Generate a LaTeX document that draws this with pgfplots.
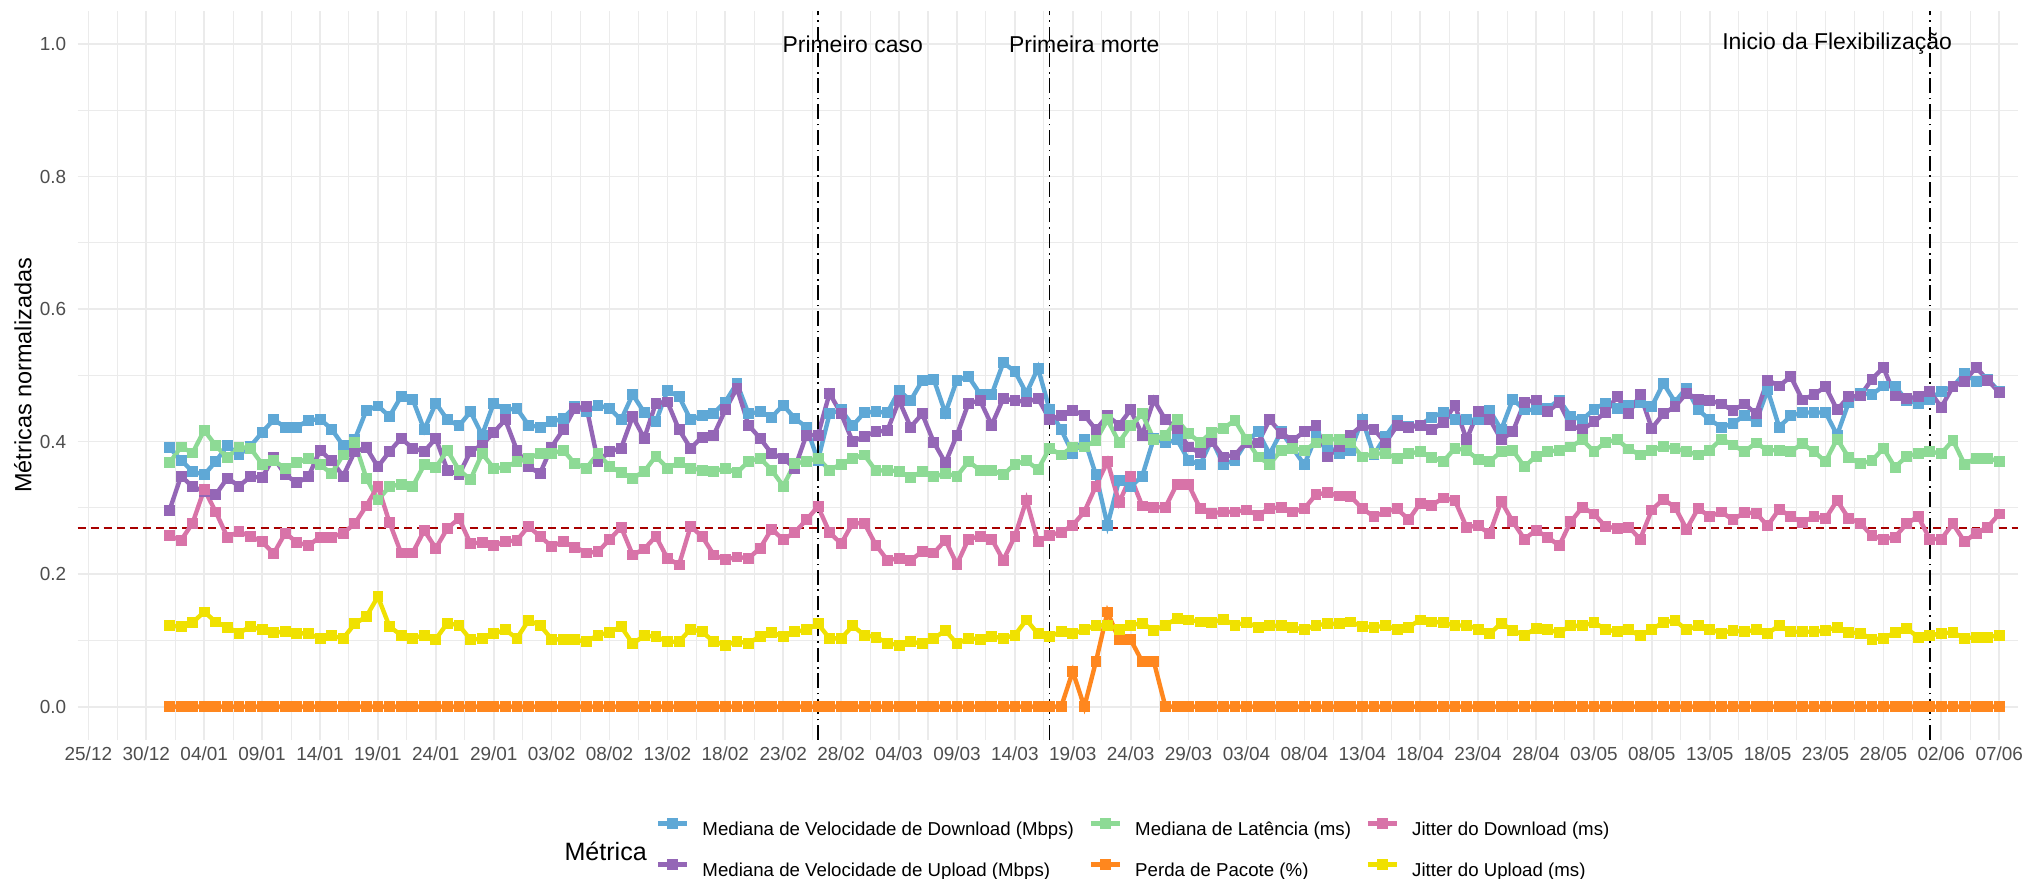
\documentclass[border=0pt]{standalone}
\usepackage{fontspec}
\setmainfont{Liberation Sans}
\usepackage{pgfplots}
\usepackage{pgfplotstable}
\pgfplotsset{compat=1.18}
\definecolor{cDL}{HTML}{5FA8D6}
\definecolor{cUL}{HTML}{9466B6}
\definecolor{cLAT}{HTML}{8DDA95}
\definecolor{cLOSS}{HTML}{FF871E}
\definecolor{cJD}{HTML}{D873A8}
\definecolor{cJU}{HTML}{F0E100}
\definecolor{gridc}{HTML}{EBEBEB}
\definecolor{tickc}{HTML}{4D4D4D}
\definecolor{hline}{HTML}{A80000}

\pgfplotstableread{
d dl ul lat loss jd ju
7 0.391 0.296 0.368 0 0.258 0.122
8 0.372 0.348 0.392 0 0.251 0.121
9 0.355 0.332 0.383 0 0.277 0.127
10 0.350 0.325 0.417 0 0.328 0.143
11 0.370 0.320 0.394 0 0.294 0.128
12 0.394 0.345 0.376 0 0.256 0.120
13 0.380 0.333 0.392 0 0.264 0.111
14 0.393 0.347 0.390 0 0.257 0.121
15 0.414 0.346 0.366 0 0.249 0.116
16 0.433 0.376 0.371 0 0.231 0.112
17 0.422 0.350 0.360 0 0.262 0.113
18 0.422 0.338 0.368 0 0.248 0.111
19 0.432 0.347 0.375 0 0.243 0.110
20 0.434 0.387 0.365 0 0.256 0.103
21 0.419 0.371 0.352 0 0.256 0.107
22 0.394 0.348 0.380 0 0.262 0.103
23 0.403 0.385 0.399 0 0.276 0.125
24 0.447 0.391 0.345 0 0.303 0.136
25 0.454 0.362 0.312 0 0.333 0.166
26 0.438 0.385 0.332 0 0.278 0.121
27 0.468 0.405 0.336 0 0.232 0.108
28 0.464 0.390 0.332 0 0.232 0.103
29 0.418 0.385 0.365 0 0.266 0.108
30 0.458 0.405 0.361 0 0.239 0.102
31 0.433 0.357 0.387 0 0.269 0.126
32 0.424 0.350 0.357 0 0.284 0.123
33 0.445 0.385 0.343 0 0.246 0.101
34 0.410 0.395 0.382 0 0.248 0.103
35 0.458 0.414 0.360 0 0.243 0.110
36 0.448 0.433 0.361 0 0.249 0.116
37 0.450 0.387 0.370 0 0.251 0.103
38 0.425 0.362 0.375 0 0.272 0.130
39 0.422 0.352 0.382 0 0.257 0.123
40 0.430 0.392 0.382 0 0.242 0.102
41 0.435 0.418 0.387 0 0.249 0.101
42 0.453 0.450 0.367 0 0.241 0.101
43 0.445 0.453 0.360 0 0.232 0.098
44 0.455 0.370 0.382 0 0.234 0.108
45 0.450 0.385 0.363 0 0.252 0.112
46 0.433 0.390 0.353 0 0.271 0.121
47 0.471 0.438 0.345 0 0.229 0.095
48 0.444 0.405 0.355 0 0.238 0.107
49 0.430 0.458 0.378 0 0.257 0.106
50 0.477 0.460 0.360 0 0.224 0.098
51 0.468 0.418 0.368 0 0.214 0.098
52 0.433 0.390 0.360 0 0.272 0.117
53 0.439 0.407 0.357 0 0.257 0.113
54 0.443 0.410 0.355 0 0.229 0.098
55 0.460 0.448 0.360 0 0.222 0.093
56 0.488 0.481 0.353 0 0.226 0.098
57 0.442 0.425 0.370 0 0.224 0.096
58 0.445 0.405 0.375 0 0.239 0.106
59 0.437 0.382 0.357 0 0.268 0.112
60 0.455 0.375 0.333 0 0.252 0.106
61 0.435 0.360 0.367 0 0.263 0.113
62 0.422 0.410 0.370 0 0.282 0.116
63 0.372 0.410 0.375 0 0.302 0.125
64 0.442 0.473 0.357 0 0.263 0.103
65 0.448 0.442 0.366 0 0.246 0.103
66 0.424 0.400 0.375 0 0.277 0.122
67 0.444 0.408 0.380 0 0.277 0.108
68 0.445 0.415 0.356 0 0.244 0.105
69 0.444 0.417 0.357 0 0.221 0.096
70 0.477 0.462 0.355 0 0.224 0.093
71 0.462 0.422 0.346 0 0.221 0.098
72 0.492 0.442 0.355 0 0.234 0.095
73 0.494 0.399 0.347 0 0.232 0.103
74 0.443 0.368 0.352 0 0.251 0.115
75 0.493 0.410 0.348 0 0.215 0.095
76 0.498 0.458 0.370 0 0.253 0.103
77 0.472 0.462 0.357 0 0.257 0.102
78 0.471 0.425 0.357 0 0.253 0.106
79 0.519 0.465 0.350 0 0.221 0.103
80 0.506 0.462 0.366 0 0.257 0.108
81 0.473 0.460 0.371 0 0.312 0.131
82 0.511 0.465 0.358 0 0.249 0.110
83 0.448 0.434 0.390 0 0.259 0.106
84 0.418 0.439 0.380 0 0.263 0.113
85 0.382 0.447 0.392 0.053 0.274 0.110
86 0.404 0.440 0.392 0 0.294 0.116
87 0.350 0.418 0.402 0.068 0.333 0.123
88 0.274 0.439 0.433 0.143 0.370 0.123
89 0.342 0.425 0.399 0.101 0.308 0.117
90 0.332 0.448 0.424 0.101 0.347 0.123
91 0.348 0.410 0.442 0.068 0.303 0.126
92 0.405 0.463 0.403 0.068 0.301 0.115
93 0.398 0.433 0.410 0 0.301 0.123
94 0.403 0.420 0.433 0 0.336 0.133
95 0.372 0.392 0.412 0 0.335 0.131
96 0.365 0.383 0.399 0 0.299 0.128
97 0.403 0.400 0.414 0 0.292 0.127
98 0.366 0.377 0.420 0 0.294 0.132
99 0.372 0.380 0.432 0 0.294 0.123
100 0.400 0.399 0.403 0 0.297 0.127
101 0.415 0.398 0.377 0 0.289 0.120
102 0.381 0.433 0.366 0 0.299 0.122
103 0.415 0.413 0.387 0 0.301 0.122
104 0.390 0.402 0.390 0 0.294 0.120
105 0.365 0.415 0.387 0 0.299 0.116
106 0.408 0.424 0.398 0 0.320 0.123
107 0.393 0.377 0.404 0 0.323 0.125
108 0.382 0.392 0.403 0 0.318 0.125
109 0.387 0.410 0.398 0 0.317 0.128
110 0.434 0.425 0.377 0 0.299 0.121
111 0.380 0.419 0.382 0 0.287 0.120
112 0.408 0.398 0.382 0 0.294 0.122
113 0.432 0.424 0.375 0 0.299 0.117
114 0.423 0.422 0.382 0 0.282 0.120
115 0.425 0.424 0.385 0 0.307 0.131
116 0.437 0.418 0.376 0 0.304 0.128
117 0.444 0.429 0.370 0 0.315 0.127
118 0.433 0.455 0.390 0 0.311 0.122
119 0.433 0.403 0.387 0 0.271 0.123
120 0.433 0.445 0.373 0 0.273 0.117
121 0.447 0.434 0.370 0 0.261 0.110
122 0.418 0.403 0.385 0 0.310 0.126
123 0.464 0.415 0.387 0 0.279 0.115
124 0.448 0.459 0.362 0 0.253 0.108
125 0.448 0.463 0.378 0 0.266 0.118
126 0.450 0.445 0.385 0 0.256 0.116
127 0.463 0.459 0.387 0 0.243 0.112
128 0.438 0.424 0.392 0 0.279 0.122
129 0.433 0.418 0.403 0 0.301 0.122
130 0.449 0.430 0.385 0 0.291 0.127
131 0.458 0.444 0.399 0 0.272 0.117
132 0.450 0.468 0.403 0 0.269 0.113
133 0.455 0.442 0.389 0 0.271 0.116
134 0.459 0.471 0.380 0 0.253 0.107
135 0.453 0.420 0.387 0 0.297 0.117
136 0.488 0.442 0.393 0 0.313 0.127
137 0.460 0.453 0.390 0 0.301 0.130
138 0.481 0.473 0.385 0 0.268 0.116
139 0.448 0.464 0.380 0 0.299 0.122
140 0.433 0.462 0.387 0 0.287 0.117
141 0.422 0.457 0.404 0 0.294 0.111
142 0.427 0.447 0.395 0 0.282 0.115
143 0.440 0.457 0.385 0 0.293 0.113
144 0.430 0.442 0.398 0 0.292 0.116
145 0.478 0.493 0.387 0 0.273 0.111
146 0.422 0.484 0.387 0 0.298 0.122
147 0.439 0.498 0.385 0 0.287 0.113
148 0.444 0.463 0.397 0 0.278 0.113
149 0.444 0.471 0.385 0 0.287 0.113
150 0.444 0.483 0.370 0 0.284 0.115
151 0.410 0.448 0.404 0 0.311 0.120
152 0.459 0.468 0.376 0 0.284 0.112
153 0.473 0.469 0.367 0 0.277 0.111
154 0.471 0.494 0.371 0 0.258 0.102
155 0.484 0.512 0.390 0 0.253 0.103
156 0.484 0.469 0.361 0 0.256 0.112
157 0.462 0.465 0.378 0 0.276 0.118
158 0.458 0.468 0.382 0 0.287 0.105
159 0.464 0.476 0.385 0 0.253 0.107
160 0.476 0.452 0.382 0 0.253 0.111
161 0.483 0.483 0.402 0 0.276 0.112
162 0.503 0.491 0.366 0 0.249 0.103
163 0.491 0.512 0.375 0 0.262 0.105
164 0.494 0.493 0.375 0 0.271 0.105
165 0.476 0.474 0.370 0 0.291 0.108
}\data

\begin{document}
\begin{tikzpicture}
\begin{axis}[
  scale only axis, width=727.5pt, height=273.3pt,
  at={(0pt,0pt)}, anchor=south west,
  xmin=-0.93, xmax=166.6, ymin=-0.05, ymax=1.05,
  axis line style={draw=none},
  major tick length=0pt, minor tick length=0pt,
  xtick={0,5,...,165},
  xticklabels={25/12,30/12,04/01,09/01,14/01,19/01,24/01,29/01,03/02,08/02,13/02,18/02,23/02,28/02,04/03,09/03,14/03,19/03,24/03,29/03,03/04,08/04,13/04,18/04,23/04,28/04,03/05,08/05,13/05,18/05,23/05,28/05,02/06,07/06},
  minor x tick num=1,
  ytick={0,0.2,0.4,0.6,0.8,1.0},
  yticklabels={0.0,0.2,0.4,0.6,0.8,1.0},
  minor y tick num=1,
  grid=both,
  major grid style={draw=gridc, line width=0.65pt},
  minor grid style={draw=gridc, line width=0.4pt},
  tick label style={font=\fontsize{7.1}{8}\selectfont, text=tickc},
  xticklabel style={anchor=base, inner sep=0pt, yshift=-7.8pt},
  yticklabel style={anchor=east, inner sep=0pt, xshift=-4.1pt},
  ylabel={Métricas normalizadas},
  ylabel style={at={(axis description cs:-0.0282,0.5)}, anchor=center, font=\fontsize{8.8}{10}\selectfont},
  every axis plot/.append style={line width=1.65pt, mark=square*, mark size=1.85pt, mark options={solid, line width=0.3pt}},
  legend image code/.code={\draw[mark repeat=2,mark phase=2,#1] plot coordinates {(0pt,2.5pt) (5.45pt,2.5pt) (10.9pt,2.5pt)};},
  legend style={draw=none, fill=none, inner sep=0pt, outer sep=0pt,
    at={(axis description cs:0.2981,-0.1080)}, anchor=north west,
    font=\fontsize{7}{8}\selectfont, row sep=7.6pt, column sep=0pt,
    nodes={inner sep=0pt, text height=5.5pt, text depth=1.5pt, anchor=west},
    /tikz/every odd column/.append style={column sep=4.9pt},
    /tikz/every even column/.append style={column sep=5.5pt}},
  legend cell align=left,
  transpose legend, legend columns=2,
]
\addplot[hline, line width=0.7pt, mark=none, dash pattern=on 3pt off 1.9pt, forget plot] coordinates {(-0.93,0.27) (166.6,0.27)};

\addplot[cDL] table[x=d,y=dl]{\data};
\addlegendentry{Mediana de Velocidade de Download (Mbps)}
\addplot[cUL] table[x=d,y=ul]{\data};
\addlegendentry{Mediana de Velocidade de Upload (Mbps)}
\addplot[cLAT] table[x=d,y=lat]{\data};
\addlegendentry{Mediana de Latência (ms)}
\addplot[cLOSS] table[x=d,y=loss]{\data};
\addlegendentry{Perda de Pacote (\%)}
\addplot[cJD] table[x=d,y=jd]{\data};
\addlegendentry{Jitter do Download (ms)}
\addplot[cJU] table[x=d,y=ju]{\data};
\addlegendentry{Jitter do Upload (ms)}

\addplot[black, line width=0.6pt, mark=none, dash pattern=on 5.5pt off 1.8pt on 0.6pt off 1.8pt, forget plot] coordinates {(63,-0.05) (63,1.05)};
\addplot[black, line width=0.6pt, mark=none, dash pattern=on 5.5pt off 1.8pt on 0.6pt off 1.8pt, forget plot] coordinates {(83,-0.05) (83,1.05)};
\addplot[black, line width=0.6pt, mark=none, dash pattern=on 5.5pt off 1.8pt on 0.6pt off 1.8pt, forget plot] coordinates {(159,-0.05) (159,1.05)};

\node[font=\fontsize{8.6}{10}\selectfont, text=black, inner sep=0pt] at (axis cs:66,1.0) {Primeiro caso};
\node[font=\fontsize{8.6}{10}\selectfont, text=black, inner sep=0pt] at (axis cs:86,1.0) {Primeira morte};
\node[font=\fontsize{8.6}{10}\selectfont, text=black, inner sep=0pt] at (axis cs:151,1.0) {Inicio da Flexibilização};
\end{axis}
\node[font=\fontsize{9.4}{10}\selectfont, inner sep=0pt] at (198pt,-41.9pt) {Métrica};
\pgfresetboundingbox
\useasboundingbox (-29.1pt,-52.2pt) rectangle (730.6pt,277.4pt);
\end{tikzpicture}
\end{document}
